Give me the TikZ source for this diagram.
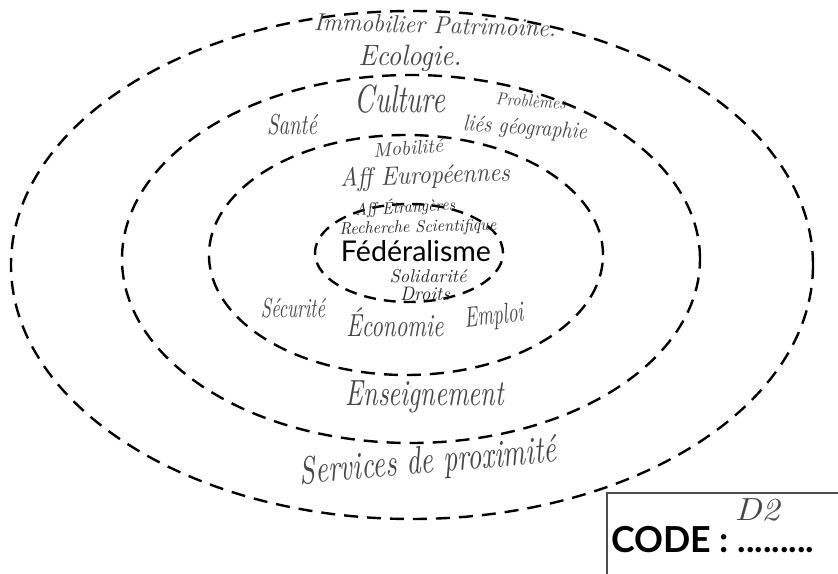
\documentclass[tikz,border=0pt]{standalone}
\usepackage{graphicx}
\usepackage{fontspec}
\newfontfamily\sansfed{Lato}
\newcommand{\hw}[3][1.35]{\scalebox{1}[#1]{\resizebox{#2pt}{!}{\itshape #3}}}
\tikzset{
  ring/.style={draw=black, line width=2.4pt, dash pattern=on 14pt off 9pt},
  innerring/.style={draw=black, line width=2.4pt, dash pattern=on 12pt off 8pt},
  hand/.style={inner sep=0pt, text=black!72},
  handdark/.style={inner sep=0pt, text=black!85},
}
\begin{document}
\begin{tikzpicture}[x=1pt,y=1pt]
\useasboundingbox (0,0) rectangle (838,573);
\fill[white] (0,0) rectangle (838,573);
% rings
\draw[ring] (412,308) ellipse [x radius=401, y radius=254];
\draw[ring] (411,314) ellipse [x radius=289, y radius=184];
\draw[ring] (406,318) ellipse [x radius=197, y radius=120];
\draw[innerring] (409,320) ellipse [x radius=94, y radius=49];
% outer ring texts
\node[hand, rotate=-1.5] (immo) at (435,548) {\hw[1.05]{242}{Immobilier Patrimoine.}};
\node[hand] (eco) at (410,515) {\hw[1.1]{103}{Ecologie.}};
\node[hand, rotate=5] (serv) at (428,110) {\hw[1.4]{257}{Services de proximité}};
% second ring texts
\node[hand] (cult) at (400,474) {\hw[1.4]{90}{Culture}};
\node[hand] (sante) at (292,448) {\hw[1.4]{50}{Santé}};
\node[hand, rotate=-4] (prob) at (531,472) {\hw[1.1]{70}{Problèmes}};
\node[hand, rotate=-4] (lies) at (525,444) {\hw[1.15]{124}{liés géographie}};
\node[hand] (ens) at (425,176) {\hw[1.4]{158}{Enseignement}};
% third ring texts
\node[hand, rotate=4] (mob) at (408,425) {\hw[1.0]{70}{Mobilité}};
\node[hand, rotate=2] (affeu) at (425,396) {\hw[1.1]{170}{Aff Européennes}};
\node[hand] (secu) at (293,265) {\hw[1.5]{64}{Sécurité}};
\node[hand] (econ) at (395,251) {\hw[1.4]{97}{Économie}};
\node[hand, rotate=6] (empl) at (494,256) {\hw[1.5]{59}{Emploi}};
% inner ring texts
\node[handdark, rotate=3] (affet) at (405,366) {\hw[1.05]{100}{Aff Étrangères}};
\node[handdark, rotate=1.5] (rech) at (418,345) {\hw[1.05]{157}{Recherche Scientifique}};
\node[inner sep=0pt] (fed) at (416,322) {\resizebox{150pt}{!}{\sansfed Fédéralisme}};
\node[handdark] (soli) at (428,297) {\hw[1.0]{77}{Solidarité}};
\node[handdark] (droits) at (425,279) {\hw[1.05]{50}{Droits}};
% code box
\coordinate (boxbl) at (607,-5);
\coordinate (boxtl) at (607,80);
\coordinate (boxtr) at (845,80);
\draw[black!70, line width=1.5pt] (boxbl) -- (boxtl) -- (boxtr);
\node[inner sep=0pt, anchor=west] (code) at (611,33) {\resizebox{203pt}{!}{\sansfed\bfseries CODE : .........}};
\node[hand] (d2) at (757,63) {\hw[0.9]{45}{D2}};
\end{tikzpicture}
\end{document}
